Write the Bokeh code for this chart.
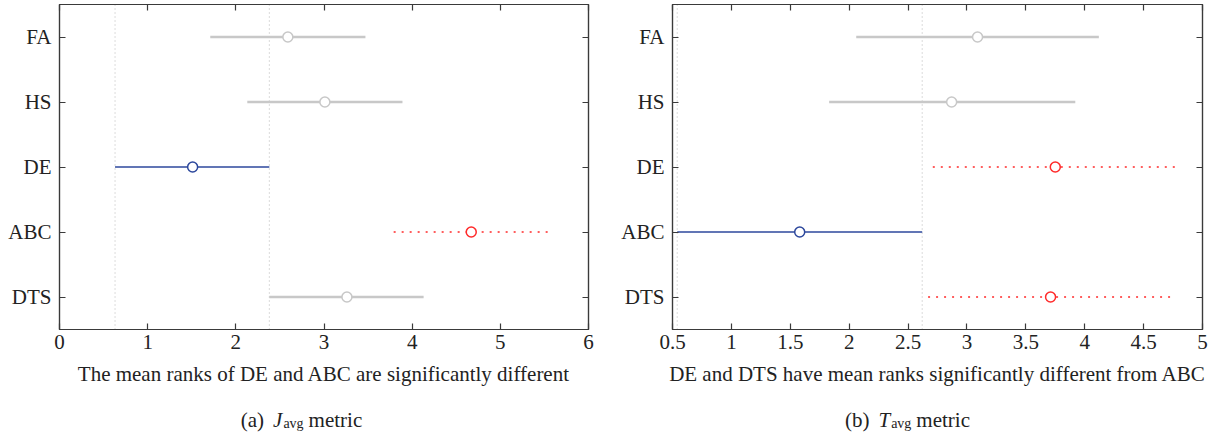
from bokeh.plotting import figure
from bokeh.models import (FactorRange, Range1d, FixedTicker, LinearAxis,
                          CategoricalAxis, Span, ColumnDataSource,
                          CustomLabelingPolicy)
from bokeh.layouts import row, column
from bokeh.core.properties import value
from bokeh.embed import file_html
from bokeh.resources import INLINE

# ---------------- data ----------------
categories = ["FA", "HS", "DE", "ABC", "DTS"]

j_mean = [2.59, 3.01, 1.51, 4.67, 3.26]
j_lo = [1.71, 2.13, 0.63, 3.79, 2.38]
j_hi = [3.47, 3.89, 2.38, 5.55, 4.13]
j_role = ["other", "other", "selected", "different", "other"]
j_ticks = [0, 1, 2, 3, 4, 5, 6]
j_xlabel = "The mean ranks of DE and ABC are significantly different"

t_mean = [3.09, 2.87, 3.75, 1.58, 3.71]
t_lo = [2.06, 1.83, 2.71, 0.54, 2.67]
t_hi = [4.12, 3.92, 4.79, 2.62, 4.75]
t_role = ["other", "other", "different", "selected", "different"]
t_ticks = [0.5, 1, 1.5, 2, 2.5, 3, 3.5, 4, 4.5, 5]
t_xlabel = "DE and DTS have mean ranks significantly different from ABC"

cap_a = ["(a)", "J", "avg", "metric"]
cap_b = ["(b)", "T", "avg", "metric"]

# ---------------- style ----------------
FONT = "Liberation Serif"
FS = "21px"
GRAY = "#c8c8c8"
BLUE = "#2c479c"
RED = "#ff2a2a"
FRAME = "#3a3a3a"
TXT = "#222222"
STYLES = {
    "other": dict(color=GRAY, width=2.3, dash="solid"),
    "selected": dict(color=BLUE, width=1.5, dash="solid"),
    "different": dict(color=RED, width=1.6, dash="2 6"),
}


def style_axis(ax, size=FS):
    ax.major_label_text_font = FONT
    ax.major_label_text_font_size = size
    ax.major_label_text_color = TXT
    ax.axis_line_color = FRAME
    ax.axis_line_width = 1.2
    ax.major_tick_line_color = FRAME
    ax.major_tick_line_width = 1.2
    ax.major_tick_in = 6
    ax.major_tick_out = 0
    ax.minor_tick_in = 0
    ax.minor_tick_out = 0


def tick_only(ax):
    style_axis(ax, "0px")
    ax.major_label_standoff = 0
    ax.major_label_policy = CustomLabelingPolicy(code="return []")


def make_panel(mean, lo, hi, role, ticks, xr, xlabel, width, mbl, mbr):
    p = figure(width=width, height=392,
               x_range=Range1d(xr[0], xr[1]),
               y_range=FactorRange(factors=categories[::-1]),
               output_backend="svg", toolbar_location=None,
               min_border_left=mbl, min_border_right=mbr,
               min_border_top=4, min_border_bottom=63)
    p.xgrid.visible = False
    p.ygrid.visible = False
    p.outline_line_color = FRAME
    p.outline_line_width = 1.2
    p.background_fill_color = "white"
    p.border_fill_color = "white"

    sel = role.index("selected")
    for loc in (lo[sel], hi[sel]):
        p.add_layout(Span(location=loc, dimension="height", line_color="#b8b8b8",
                          line_dash="1 3", line_width=1, level="underlay"))

    for r, st in STYLES.items():
        idx = [i for i, v in enumerate(role) if v == r]
        if not idx:
            continue
        src = ColumnDataSource(dict(cat=[categories[i] for i in idx],
                                    m=[mean[i] for i in idx],
                                    lo=[lo[i] for i in idx],
                                    hi=[hi[i] for i in idx]))
        p.segment(x0="lo", x1="hi", y0="cat", y1="cat", source=src,
                  line_color=st["color"], line_width=st["width"],
                  line_dash=st["dash"])
        p.scatter(x="m", y="cat", source=src, marker="circle", size=10,
                  fill_color="white", line_color=st["color"], line_width=1.5)

    p.xaxis.ticker = FixedTicker(ticks=ticks)
    p.xaxis.major_label_overrides = {t: f"{t:g}" for t in ticks}
    p.xaxis.axis_label = xlabel
    p.xaxis.axis_label_text_font = FONT
    p.xaxis.axis_label_text_font_size = FS
    p.xaxis.axis_label_text_font_style = "normal"
    p.xaxis.axis_label_text_color = TXT
    p.xaxis.axis_label_standoff = 10
    p.xaxis.major_label_standoff = 5
    p.yaxis.major_label_standoff = 8
    for ax in list(p.xaxis) + list(p.yaxis):
        style_axis(ax)

    top = LinearAxis(ticker=FixedTicker(ticks=ticks))
    tick_only(top)
    p.add_layout(top, "above")
    right = CategoricalAxis()
    tick_only(right)
    p.add_layout(right, "right")
    return p


p1 = make_panel(j_mean, j_lo, j_hi, j_role, j_ticks, (0, 6), j_xlabel, 615, 59, 27)
p2 = make_panel(t_mean, t_lo, t_hi, t_role, t_ticks, (0.5, 5), t_xlabel, 600, 57, 13)

# ---------------- captions ----------------
CW = {"(": .333, ")": .333, "a": .444, "b": .5, " ": .25, "J": .444, "T": .556,
      "v": .5, "g": .5, "m": .778, "e": .444, "t": .278, "r": .333, "i": .278, "c": .444}


def tw(s, size):
    return sum(CW.get(ch, .5) for ch in s) * size


cap = figure(width=1215, height=44, x_range=Range1d(0, 1215), y_range=Range1d(0, 44),
             output_backend="svg", toolbar_location=None, min_border=0,
             x_axis_location=None, y_axis_location=None)
cap.grid.visible = False
cap.outline_line_color = None


def draw_caption(parts, center):
    sizes = [21, 21, 14, 21]
    styles = ["normal", "italic", "normal", "normal"]
    ys = [17, 17, 13, 17]
    gaps = [9, 1, 5, 0]
    total = sum(tw(s, z) for s, z in zip(parts, sizes)) + sum(gaps)
    x = center - total / 2
    for s, z, st, y, g in zip(parts, sizes, styles, ys, gaps):
        cap.text(x=[x], y=[y], text=[s], text_font=value(FONT),
                 text_font_size=f"{z}px", text_font_style=st,
                 text_color=TXT, text_baseline="alphabetic", text_align="left")
        x += tw(s, z) + g


draw_caption(cap_a, 301)
draw_caption(cap_b, 907)

layout = column(row(p1, p2, spacing=0), cap, spacing=0)
open("out.html", "w").write(file_html(layout, INLINE))
